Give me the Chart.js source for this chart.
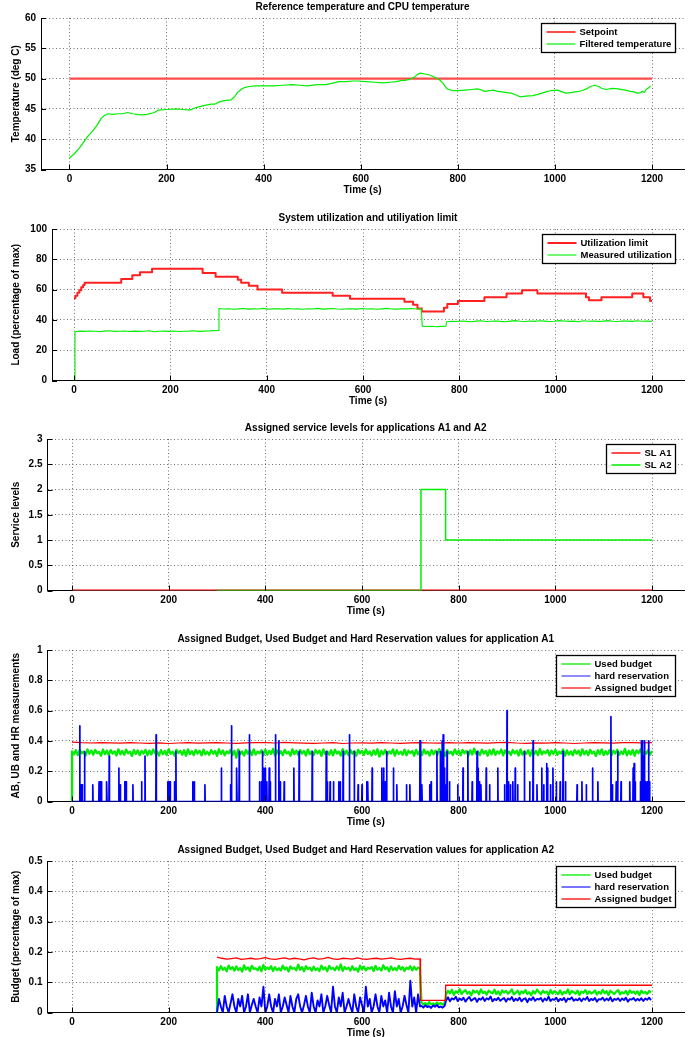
<!DOCTYPE html>
<html><head><meta charset="utf-8">
<script src="https://cdn.jsdelivr.net/npm/chart.js@4.4.0/dist/chart.umd.min.js"></script>
<style>
html,body{margin:0;padding:0;background:#fff;overflow:hidden;width:690px;height:1037px;position:relative;}
canvas{position:absolute;left:0;}
</style></head><body>
<canvas id="c1" width="690" height="200" style="top:0px"></canvas>
<canvas id="c2" width="690" height="200" style="top:211px"></canvas>
<canvas id="c3" width="690" height="200" style="top:421px"></canvas>
<canvas id="c4" width="690" height="200" style="top:632px"></canvas>
<canvas id="c5" width="690" height="200" style="top:843px"></canvas>
<script>
// ---------- shared ticks ----------
const xTickValues = [0, 200, 400, 600, 800, 1000, 1200];
const xTickLabels = ['0', '200', '400', '600', '800', '1000', '1200'];

// ---------- panel 1: temperature ----------
const tempYTicks = [35, 40, 45, 50, 55, 60];
const tempYLabels = ['35', '40', '45', '50', '55', '60'];
const setpoint = [[0, 50], [1200, 50]];
const filteredTemp = [[0,36.9],[10,37.6],[20,38.5],[30,39.6],[38,40.5],[47,41.3],[56,42.2],[65,43.4],[72,43.9],[80,44.2],[90,44.1],[100,44.2],[110,44.2],[120,44.4],[130,44.2],[147,44.0],[160,44.1],[175,44.4],[183,44.8],[200,44.9],[220,45.0],[235,44.9],[247,44.8],[260,45.2],[274,45.5],[292,45.8],[300,45.8],[310,46.2],[322,46.4],[333,46.5],[340,47.0],[347,47.8],[355,48.3],[360,48.5],[370,48.7],[383,48.8],[400,48.8],[419,48.8],[440,48.9],[460,49.0],[474,48.9],[490,48.8],[510,49.0],[528,49.0],[540,49.2],[555,49.5],[570,49.5],[583,49.6],[595,49.6],[610,49.5],[630,49.4],[646,49.3],[660,49.4],[673,49.5],[685,49.7],[692,49.7],[700,49.9],[710,50.2],[717,50.7],[723,50.9],[730,50.8],[742,50.6],[750,50.3],[755,50.1],[762,49.8],[769,49.3],[775,48.6],[778,48.3],[790,48.0],[800,48.0],[815,48.1],[828,48.2],[840,48.3],[846,48.2],[855,47.9],[865,48.0],[873,48.1],[882,47.9],[891,47.8],[900,47.7],[910,47.6],[920,47.3],[928,47.0],[940,47.1],[955,47.2],[965,47.4],[973,47.6],[985,47.9],[991,48.0],[1005,48.1],[1015,47.8],[1023,47.6],[1032,47.7],[1041,47.8],[1050,47.9],[1055,48.0],[1065,48.3],[1073,48.7],[1082,48.9],[1090,48.7],[1096,48.4],[1105,48.2],[1118,48.4],[1130,48.3],[1145,48.1],[1155,47.9],[1163,47.8],[1170,47.6],[1177,47.7],[1180,47.9],[1184,47.7],[1188,48.2],[1193,48.5],[1197,48.8]];

// ---------- panel 2: utilization ----------
const loadYTicks = [0, 20, 40, 60, 80, 100];
const loadYLabels = ['0', '20', '40', '60', '80', '100'];
const utilLimitSteps = [[0,54.3],[3,56],[7,58],[11,59.5],[15,61.5],[19,63],[22,64.5],[98,67],[121,69.5],[137,71.5],[162,73.8],[267,71],[294,68.5],[340,66.5],[347,64.5],[363,62.5],[381,60],[432,58],[537,56],[573,54],[686,52],[704,50],[713,47.5],[722,45.5],[768,48],[775,50.5],[797,52.5],[852,55],[898,57.5],[930,59.5],[962,57.5],[1063,55],[1069,53],[1095,55],[1159,57.5],[1182,55],[1196,52.5],[1200,52.5]];
const utilMeasStart = [[0, 0]];
const utilMeasA = [32.2,32.6,32.4,32.7,32.5,32.3,32.6,32.8,32.4,32.5,32.7,32.3,32.6,32.4,32.5,32.8,32.2,32.5,32.6,32.4,32.7,32.3,32.5,32.6,32.8,32.4,32.6,32.7,32.9,33.0]; // 2..300 s
const utilMeasB = [47.5,47.2,47.4,47.0,47.3,47.5,47.1,47.3,47.2,47.6,47.0,47.3,47.4,47.1,47.5,47.2,47.3,47.0,47.4,47.2,47.6,47.1,47.3,47.5,47.2,47.0,47.4,47.3,47.1,47.5,47.2,47.4,47.0,47.3,47.6,47.2,47.1,47.4,47.3,47.5,47.2,47.4]; // 301..721 s
const utilMeasC = [35.9,35.6,35.8,35.5,35.7,35.9]; // 723..772 s
const utilMeasD = [38.8,39.1,38.9,39.3,39.0,38.8,39.2,39.4,38.9,39.1,39.3,39.0,38.8,39.2,39.5,39.1,38.9,39.3,39.0,39.4,39.2,38.9,39.1,39.5,39.3,39.0,39.2,38.8,39.4,39.1,39.3,39.0,39.2,39.5,39.1,38.9,39.3,39.2,39.0,39.4,39.1,39.3,39.0]; // 774..1200 s

// ---------- panel 3: service levels ----------
const slYTicks = [0, 0.5, 1, 1.5, 2, 2.5, 3];
const slYLabels = ['0', '0.5', '1', '1.5', '2', '2.5', '3'];
const slA1 = [[0, 0], [1200, 0]];
const slA2 = [[300, 0], [722, 2], [773, 1], [1200, 1]];

// ---------- panel 4: budgets A1 ----------
const a1YTicks = [0, 0.2, 0.4, 0.6, 0.8, 1];
const a1YLabels = ['0', '0.2', '0.4', '0.6', '0.8', '1'];
const usedA1 = [.330,.312,.338,.306,.341,.318,.329,.303,.344,.315,.336,.309,.340,.320,.327,.302,.343,.313,.335,.307,
.339,.316,.331,.304,.345,.311,.334,.308,.342,.319,.328,.301,.340,.314,.337,.306,.333,.317,.341,.305,
.336,.310,.343,.318,.330,.303,.339,.312,.334,.307,.346,.315,.329,.304,.341,.320,.335,.309,.338,.302,
.344,.313,.332,.306,.340,.317,.336,.304,.342,.311,.328,.308,.339,.316,.333,.301,.345,.314,.337,.305,
.331,.318,.341,.307,.335,.289,.343,.312,.330,.303,.340,.316,.336,.306,.344,.310,.329,.319,.338,.304,
.342,.309,.334,.315,.347,.303,.337,.311,.332,.306,.341,.318,.328,.302,.345,.313,.336,.308,.339,.316,
.333,.304,.343,.312,.330,.307,.340,.319,.335,.301,.344,.314,.331,.309,.338,.305,.342,.317,.329,.303,
.346,.311,.336,.306,.339,.315,.332,.302,.341,.318,.334,.308,.343,.313,.330,.304,.337,.310,.345,.296,
.335,.312,.340,.307,.331,.317,.344,.303,.338,.314,.329,.309,.342,.305,.336,.319,.333,.302,.341,.311,
.337,.306,.343,.316,.330,.304,.339,.312,.335,.308,.346,.315,.332,.301,.340,.318,.328,.307,.344,.313,
.336,.305,.341,.319,.333,.303,.338,.310,.349,.314,.330,.306,.342,.317,.334,.302,.339,.311,.345,.308,
.331,.316,.343,.304,.337,.312,.329,.307,.340,.318,.335,.303,.344,.309,.332,.315,.338,.301,.341,.313,
.334,.306,.346,.311,.330,.319,.339,.304,.336,.314,.342,.308,.328,.317,.343,.302,.337,.310,.331,.305,
.340,.316,.335,.303,.345,.312,.333,.307,.341,.318,.329,.301,.338,.314,.344,.306,.332,.311,.339,.304,
.336,.317,.342,.308,.330,.313,.347,.305,.334,.310,.340,.302,.337,.319,.343,.307,.331,.315,.339,.309,
.333]; // 0..1200 s
const assignedA1 = [.392,.388,.386,.389,.387,.385,.388,.386,.384,.387,.383,.386,.388,.385,.387,.389,.386,.384,.387,.389,
.388,.386,.390,.387,.385,.384,.386,.388,.383,.386,.387,.385,.388,.386,.384,.387,.389,.386,.385,.388,
.386,.389,.387,.385,.388,.390,.386,.384,.387,.385,.388,.386,.383,.386,.388,.387,.385,.388,.389,.387,
.389]; // 0..1200 s
const hardResA1 = [[16,.50],[19,.11],[21,.11],[26,.33],[43,.11],[56,.13],[58,.13],[61,.13],[71,.13],[72,.13],[77,.30],[97,.22],[100,.11],[109,.13],[110,.13],[112,.13],[126,.11],[144,.13],[151,.30],[174,.44],[198,.13],[200,.13],[203,.13],[212,.13],[215,.33],[250,.13],[253,.13],[275,.11],[309,.22],[328,.11],[330,.50],[340,.22],[341,.20],[346,.33],[367,.44],[388,.13],[392,.13],[394,.33],[397,.22],[400,.22],[403,.13],[408,.22],[410,.13],[421,.44],[428,.40],[431,.13],[439,.13],[459,.22],[470,.33],[497,.33],[526,.33],[528,.13],[534,.13],[541,.13],[552,.13],[555,.13],[561,.33],[574,.44],[584,.33],[592,.11],[600,.11],[610,.13],[612,.13],[621,.22],[641,.22],[643,.13],[645,.22],[648,.13],[651,.33],[665,.22],[672,.11],[692,.11],[699,.11],[720,.40],[722,.11],[724,.11],[740,.11],[743,.13],[755,.33],[762,.33],[766,.40],[768,.44],[770,.22],[772,.11],[776,.33],[781,.13],[798,.11],[809,.22],[819,.33],[828,.13],[838,.33],[840,.22],[843,.13],[846,.11],[857,.22],[864,.11],[881,.22],[895,.11],[900,.60],[903,.13],[907,.11],[912,.13],[917,.22],[922,.11],[936,.33],[947,.13],[954,.40],[962,.11],[972,.22],[976,.11],[982,.25],[984,.22],[990,.11],[995,.22],[1002,.13],[1010,.13],[1016,.33],[1021,.13],[1045,.11],[1055,.13],[1064,.11],[1077,.22],[1088,.13],[1115,.56],[1118,.11],[1126,.13],[1129,.33],[1136,.13],[1154,.13],[1161,.22],[1163,.25],[1165,.13],[1176,.13],[1178,.40],[1180,.40],[1182,.30],[1184,.40],[1186,.13],[1190,.13],[1193,.40],[1195,.13]];

// ---------- panel 5: budgets A2 ----------
const a2YTicks = [0, 0.1, 0.2, 0.3, 0.4, 0.5];
const a2YLabels = ['0', '0.1', '0.2', '0.3', '0.4', '0.5'];
const usedA2Start = [[300, 0]];
const usedA2A = [.150,.139,.153,.141,.148,.136,.155,.143,.150,.138,.152,.140,.147,.135,.156,.142,.149,.137,.154,.144,
.146,.139,.151,.136,.157,.141,.148,.143,.153,.137,.150,.140,.146,.138,.155,.142,.149,.135,.152,.144,
.147,.139,.158,.141,.150,.136,.153,.143,.148,.138,.151,.140,.146,.137,.155,.142,.149,.136,.154,.144,
.147,.139,.152,.141,.159,.137,.150,.143,.148,.138,.153,.140,.146,.135,.155,.142,.151,.139,.148,.144,
.150,.137,.154,.141,.147,.138,.156,.143,.149,.136,.152,.140,.147,.139,.154,.142,.150,.137,.148,.143,
.153,.139,.151,.141,.148,.146]; // 300..720 s
const usedA2B = [.033,.026,.031,.024,.034,.027,.030,.025,.033,.028,.031,.026,.032]; // 723..771 s
const usedA2C = [.060,.072,.063,.075,.058,.070,.065,.077,.061,.069,.074,.062,.068,.057,.073,.066,.071,.060,.076,.064,
.069,.059,.072,.067,.063,.075,.061,.070,.058,.073,.066,.071,.062,.068,.076,.060,.065,.072,.059,.070,
.064,.074,.061,.067,.057,.071,.063,.075,.068,.060,.072,.065,.069,.058,.074,.062,.070,.066,.061,.073,
.059,.068,.064,.076,.060,.071,.067,.062,.072,.058,.069,.065,.074,.061,.070,.063,.066,.073,.059,.068,
.062,.075,.064,.070,.058,.072,.066,.061,.069,.074,.060,.067,.063,.071,.059,.073,.065,.069,.062,.070,
.058,.072,.064,.068,.061,.071,.066]; // 774..1198 s
const hardResA2A = [.000,.045,.020,.000,.055,.020,.000,.030,.060,.020,.000,.045,.020,.055,.000,.020,.060,.000,.025,.045,
.020,.000,.050,.020,.085,.000,.020,.060,.020,.000,.045,.020,.060,.000,.020,.050,.025,.000,.055,.020,
.000,.045,.060,.020,.000,.025,.055,.020,.000,.065,.020,.000,.040,.020,.060,.000,.020,.055,.025,.000,
.085,.020,.000,.050,.020,.065,.000,.020,.045,.020,.000,.060,.020,.000,.050,.025,.000,.085,.020,.045,
.000,.020,.060,.020,.000,.055,.020,.040,.000,.065,.020,.000,.070,.020,.045,.000,.020,.055,.025,.000,
.105,.020,.050,.000,.060,.020]; // 300..720 s
const hardResA2B = [.022,.016,.024,.018,.021,.015,.023,.019,.025,.017,.020,.016,.022]; // 723..771 s
const hardResA2C = [.040,.050,.037,.047,.043,.052,.038,.046,.041,.049,.036,.045,.051,.039,.044,.048,.035,.046,.042,.050,
.038,.047,.043,.053,.037,.045,.041,.049,.039,.044,.048,.036,.046,.042,.051,.038,.045,.040,.049,.037,
.044,.047,.034,.046,.041,.050,.039,.045,.043,.048,.036,.046,.040,.052,.038,.044,.042,.049,.037,.045,
.041,.048,.035,.046,.043,.050,.039,.044,.040,.047,.037,.046,.042,.051,.038,.045,.041,.048,.036,.044,
.043,.049,.039,.046,.040,.050,.037,.045,.042,.047,.038,.046,.041,.049,.036,.044,.043,.048,.039,.045,
.040,.047,.038,.046,.042,.049,.041]; // 774..1198 s
const assignedA2A = [.183,.179,.176,.178,.180,.175,.177,.179,.176,.178,.181,.177,.175,.178,.180,.176,.179,.177,.174,.178,
.180,.176,.178,.182,.177,.175,.179,.178,.176,.180,.177,.175,.178,.179,.176,.178,.180,.177,.175,.178,
.179,.176,.177]; // 300..720 s
const assignedA2Levels = [[721,.177],[721,.040],[773,.040],[773,.090],[1200,.090]];

// ---------- helpers ----------
const FONT = "'Liberation Sans', Arial, Helvetica, sans-serif";
Chart.defaults.font.family = FONT;
Chart.defaults.color = '#000';

function pts(pairs) { return pairs.map(p => ({x: p[0], y: p[1]})); }
// samples of a series recorded at a regular rate between t0 and t1
function sampled(values, t0, t1) {
  const n = values.length;
  return values.map((v, i) => ({x: t0 + (t1 - t0) * i / (n - 1), y: v}));
}
function spikes(list, t0, t1) {
  const out = [{x: t0, y: 0}];
  list.forEach(([t, h]) => { out.push({x: t - 0.5, y: 0}, {x: t, y: h}, {x: t + 0.5, y: 0}); });
  out.push({x: t1, y: 0});
  return out;
}

const inwardTicks = {
  id: 'inwardTicks',
  afterDatasetsDraw(chart) {
    const {ctx, chartArea} = chart;
    const sx = chart.scales.x, sy = chart.scales.y;
    ctx.save();
    ctx.strokeStyle = '#000';
    ctx.lineWidth = 1;
    ctx.beginPath();
    sx.ticks.forEach(t => {
      const px = Math.round(sx.getPixelForValue(t.value)) + 0.5;
      ctx.moveTo(px, chartArea.bottom); ctx.lineTo(px, chartArea.bottom - 5);
    });
    sy.ticks.forEach(t => {
      const py = Math.round(sy.getPixelForValue(t.value)) + 0.5;
      ctx.moveTo(chartArea.left, py); ctx.lineTo(chartArea.left + 5, py);
    });
    ctx.stroke();
    ctx.restore();
  }
};

const boxLegend = {
  id: 'boxLegend',
  afterDraw(chart) {
    const {ctx, chartArea} = chart;
    const items = chart.data.datasets.filter(d => d.label);
    ctx.save();
    ctx.font = 'bold 9.5px ' + FONT;
    const textW = Math.max(...items.map(d => ctx.measureText(d.label).width));
    const lineLen = 29, padL = 5, gap = 4, padR = 4, rowH = 12, padV = 2.5;
    const w = Math.round(padL + lineLen + gap + textW + padR);
    const h = Math.round(padV * 2 + rowH * items.length);
    const x = Math.round(chartArea.right - 9 - w) + 0.5;
    const y = Math.round(chartArea.top + 5) + 0.5;
    ctx.fillStyle = '#fff';
    ctx.fillRect(x, y, w, h);
    ctx.strokeStyle = '#000';
    ctx.lineWidth = 1.3;
    ctx.strokeRect(x, y, w, h);
    items.forEach((d, i) => {
      const cy = Math.round(y + padV + rowH * (i + 0.5));
      ctx.strokeStyle = d.legendColor || d.borderColor;
      ctx.lineWidth = d.legendWidth || Math.min(d.borderWidth, 2);
      ctx.beginPath();
      ctx.moveTo(x + padL, cy); ctx.lineTo(x + padL + lineLen, cy);
      ctx.stroke();
      ctx.fillStyle = '#000';
      ctx.textBaseline = 'middle';
      ctx.textAlign = 'left';
      ctx.fillText(d.label, x + padL + lineLen + gap, cy + 0.5);
    });
    ctx.restore();
  }
};

function makeChart(id, title, yTitle, yMin, yMax, yTicks, yLabels, axisLeft, xMin, xMax, datasets) {
  const gridColor = 'rgba(0,0,0,0.55)';
  return new Chart(document.getElementById(id), {
    type: 'line',
    data: {datasets},
    options: {
      responsive: false, animation: false, devicePixelRatio: 1, events: [],
      layout: {padding: {top: 0, left: 0, right: 6, bottom: 0}},
      elements: {point: {radius: 0}, line: {tension: 0, borderJoinStyle: 'round', borderCapStyle: 'butt'}},
      plugins: {
        legend: {display: false}, tooltip: {enabled: false},
        title: {display: true, text: title, fullSize: false, color: '#000',
                font: {size: 10, weight: 'bold'}, padding: {top: 1, bottom: 5}}
      },
      scales: {
        x: {
          type: 'linear', min: xMin, max: xMax,
          afterBuildTicks: s => { s.ticks = xTickValues.map(v => ({value: v})); },
          afterFit: s => { s.height = 30.5; },
          ticks: {callback: (v, i) => xTickLabels[i], font: {size: 10, weight: 'bold'}, padding: 4, maxRotation: 0, autoSkip: false, color: '#000'},
          grid: {color: gridColor, drawTicks: false, lineWidth: 1},
          border: {display: true, color: '#000', width: 1, dash: [1, 2.5]},
          title: {display: true, text: 'Time (s)', color: '#000', font: {size: 10, weight: 'bold'}, padding: {top: 0, bottom: 4}}
        },
        y: {
          type: 'linear', min: yMin, max: yMax,
          afterBuildTicks: s => { s.ticks = yTicks.map(v => ({value: v})); },
          afterFit: s => { s.width = axisLeft; },
          ticks: {callback: (v, i) => yLabels[i], font: {size: 10, weight: 'bold'}, padding: 5, autoSkip: false, color: '#000'},
          grid: {color: gridColor, drawTicks: false, lineWidth: 1},
          border: {display: true, color: '#000', width: 1, dash: [1, 2.5]},
          title: {display: true, text: yTitle, color: '#000', font: {size: 10, weight: 'bold'}, padding: {top: 10, bottom: 0}}
        }
      }
    },
    plugins: [inwardTicks, boxLegend]
  });
}

const RED = '#ff0000', GREEN = '#00ee00', BLUE = '#0000ff';

makeChart('c1', 'Reference temperature and CPU temperature', 'Temperature (deg C)', 35, 60, tempYTicks, tempYLabels, 41, -58.7, 1265.9, [
  {label: 'Setpoint', data: pts(setpoint), borderColor: '#ff4a4a', borderWidth: 2.4, order: 2},
  {label: 'Filtered temperature', data: pts(filteredTemp), borderColor: GREEN, borderWidth: 1.2, order: 1}
]);

makeChart('c2', 'System utilization and utiliyation limit', 'Load (percentage of max)', 0, 100, loadYTicks, loadYLabels, 52, -45.7, 1266.4, [
  {label: 'Utilization limit', data: pts(utilLimitSteps), borderColor: '#ff2020', borderWidth: 2, stepped: true, order: 2},
  {label: 'Measured utilization', data: pts(utilMeasStart).concat(sampled(utilMeasA, 2, 300), sampled(utilMeasB, 301, 721), sampled(utilMeasC, 723, 772), sampled(utilMeasD, 774, 1200)), borderColor: GREEN, borderWidth: 1.1, order: 1}
]);

makeChart('c3', 'Assigned service levels for applications A1 and A2', 'Service levels', 0, 3, slYTicks, slYLabels, 47.5, -50.7, 1266.2, [
  {label: 'SL A1', data: pts(slA1), borderColor: '#ff4a4a', borderWidth: 2.4, stepped: true, order: 2},
  {label: 'SL A2', data: pts(slA2), borderColor: GREEN, borderWidth: 1.5, stepped: true, order: 1}
]);

makeChart('c4', 'Assigned Budget, Used Budget and Hard Reservation values for application A1', 'AB, UB and HR measurements', 0, 1, a1YTicks, a1YLabels, 47.5, -50.7, 1266.2, [
  {label: 'Used budget', data: [{x: 0, y: 0}].concat(sampled(usedA1, 0, 1200)), borderColor: GREEN, borderWidth: 2.3, legendWidth: 1.3, order: 3},
  {label: 'hard reservation', data: spikes(hardResA1, 0, 1200), borderColor: BLUE, borderWidth: 1.7, legendColor: '#6f6fff', legendWidth: 1.6, order: 1},
  {label: 'Assigned budget', data: sampled(assignedA1, 0, 1200), borderColor: RED, borderWidth: 1.2, order: 2}
]);

makeChart('c5', 'Assigned Budget, Used Budget and Hard Reservation values for application A2', 'Budget (percentage of max)', 0, 0.5, a2YTicks, a2YLabels, 47.5, -50.7, 1266.2, [
  {label: 'Used budget', data: pts(usedA2Start).concat(sampled(usedA2A, 300, 720), sampled(usedA2B, 723, 771), sampled(usedA2C, 774, 1198)), borderColor: GREEN, borderWidth: 2.2, legendWidth: 1.3, order: 3},
  {label: 'hard reservation', data: sampled(hardResA2A, 300, 720).concat(sampled(hardResA2B, 723, 771), sampled(hardResA2C, 774, 1198)), borderColor: BLUE, borderWidth: 1.9, legendColor: '#2a2aff', legendWidth: 1.3, order: 2},
  {label: 'Assigned budget', data: sampled(assignedA2A, 300, 720).concat(pts(assignedA2Levels)), borderColor: RED, borderWidth: 1.3, order: 1}
]);
</script>
</body></html>
